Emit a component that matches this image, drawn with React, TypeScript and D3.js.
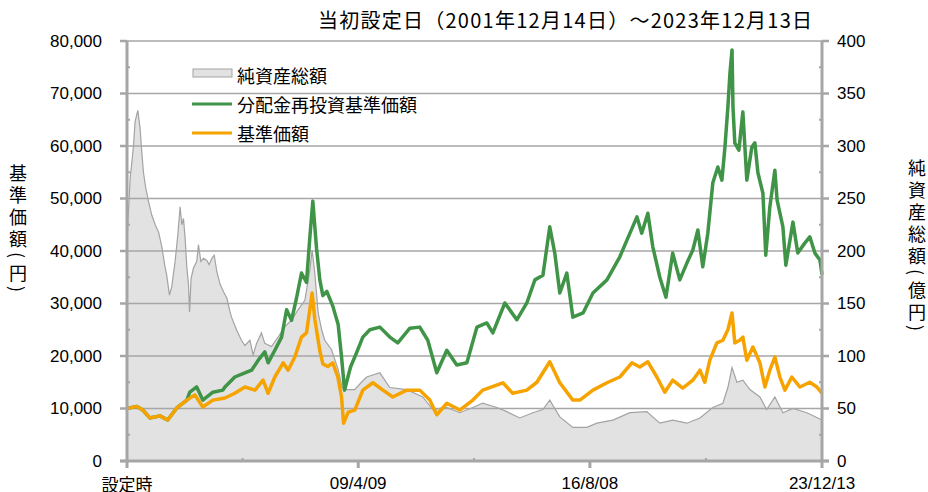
import React from 'react';
import * as d3 from 'd3';

// 純資産総額（億円）
const assetDates = [
  '2001-12-14', '2002-01-20', '2002-02-09', '2002-02-28', '2002-03-17', '2002-04-18', '2002-05-14', '2002-06-03',
  '2002-06-22', '2002-07-19', '2002-08-20', '2002-09-27', '2002-11-05', '2002-12-14', '2003-01-21', '2003-02-22',
  '2003-03-18', '2003-04-19', '2003-05-15', '2003-06-23', '2003-07-24', '2003-08-20', '2003-09-09', '2003-09-28',
  '2003-10-17', '2003-11-06', '2003-11-25', '2003-12-07', '2003-12-25', '2004-01-22', '2004-02-28', '2004-03-19',
  '2004-04-16', '2004-05-16', '2004-06-24', '2004-07-20', '2004-08-21', '2004-09-17', '2004-10-18', '2004-11-25',
  '2005-01-04', '2005-02-11', '2005-03-19', '2005-04-05', '2005-06-02', '2005-07-29', '2005-09-07', '2005-11-04',
  '2005-12-11', '2006-01-20', '2006-03-17', '2006-04-25', '2006-07-11', '2006-09-26', '2006-12-13', '2007-02-28',
  '2007-05-14', '2007-08-01', '2007-09-28', '2007-10-24', '2007-11-24', '2008-01-02', '2008-02-11', '2008-03-18',
  '2008-06-05', '2008-08-20', '2008-10-05', '2008-11-25', '2009-02-28', '2009-05-16', '2009-07-16', '2009-12-15',
  '2010-04-09', '2010-10-22', '2011-04-25', '2011-08-19', '2012-01-28', '2012-06-26', '2012-11-24', '2013-03-18',
  '2013-08-28', '2013-12-22', '2014-05-20', '2014-10-18', '2015-02-12', '2015-05-02', '2015-08-26', '2016-01-24',
  '2016-07-04', '2016-10-28', '2017-04-30', '2017-11-14', '2018-05-27', '2018-10-25', '2019-03-23', '2019-09-03',
  '2020-02-01', '2020-06-29', '2020-10-23', '2020-12-20', '2021-02-06', '2021-04-03', '2021-06-11', '2021-09-01',
  '2021-12-25', '2022-03-14', '2022-06-16', '2022-09-17', '2023-01-11', '2023-06-21', '2023-12-13',
];
const assetValues = [
  210, 270, 285, 301, 323, 334, 317, 294,
  275, 260, 247, 234, 225, 218, 204, 187,
  177, 158, 166, 190, 215, 242, 225, 231,
  212, 184, 168, 142, 174, 184, 190, 206,
  190, 193, 191, 187, 193, 196, 180, 168,
  161, 155, 142, 137, 125, 115, 110, 115,
  101, 112, 122, 112, 109, 118, 128, 134,
  144, 153, 182, 201, 179, 141, 125, 115,
  106, 87, 70, 68, 68, 75, 80, 84,
  70, 68, 61, 49, 51, 46, 51, 55,
  51, 47, 41, 46, 49, 58, 42, 32,
  32, 36, 39, 46, 47, 36, 39, 36,
  41, 51, 55, 70, 89, 75, 77, 68,
  61, 49, 61, 46, 50, 46, 39,
];

// 基準価額（円）
const priceDates = [
  '2001-12-14', '2002-04-06', '2002-06-15', '2002-09-04', '2002-12-29', '2003-03-29', '2003-07-12', '2003-11-06',
  '2004-02-07', '2004-05-08', '2004-09-02', '2005-01-19', '2005-05-13', '2005-09-07', '2006-01-02', '2006-04-05',
  '2006-06-02', '2006-08-19', '2006-11-23', '2007-01-20', '2007-04-07', '2007-06-23', '2007-08-20', '2007-10-24',
  '2007-11-24', '2008-01-21', '2008-02-25', '2008-04-22', '2008-06-19', '2008-08-16', '2008-09-28', '2008-10-21',
  '2008-12-14', '2009-02-28', '2009-06-01', '2009-09-25', '2010-01-19', '2010-05-13', '2010-10-22', '2011-03-21',
  '2011-07-15', '2011-10-04', '2012-01-28', '2012-06-26', '2012-11-24', '2013-03-18', '2013-11-06', '2014-02-28',
  '2014-08-10', '2014-12-04', '2015-05-02', '2015-08-26', '2016-01-24', '2016-04-14', '2016-09-12', '2017-02-21',
  '2017-07-20', '2017-12-06', '2018-03-08', '2018-06-09', '2018-09-21', '2018-12-22', '2019-03-23', '2019-07-17',
  '2019-11-11', '2020-02-01', '2020-03-28', '2020-05-25', '2020-08-15', '2020-10-23', '2020-12-20', '2021-02-06',
  '2021-03-10', '2021-05-07', '2021-06-11', '2021-07-27', '2021-10-05', '2021-12-25', '2022-02-21', '2022-04-19',
  '2022-06-16', '2022-08-13', '2022-10-10', '2022-12-29', '2023-04-01', '2023-07-25', '2023-10-14', '2023-12-13',
];
const priceValues = [
  10000, 10400, 9700, 8200, 8600, 7800, 10100, 11600,
  12600, 10300, 11600, 12000, 12900, 14100, 13500, 15400,
  12900, 16000, 18700, 17300, 19800, 23600, 24400, 32000,
  27000, 21000, 18500, 18000, 18700, 16000, 12200, 7200,
  9300, 9700, 13500, 14900, 13500, 12200, 13500, 13500,
  11600, 8800, 11000, 9700, 11600, 13500, 14900, 12900,
  13500, 15000, 18900, 14900, 11600, 11600, 13500, 14900,
  16000, 18700, 17900, 18900, 16000, 13100, 15400, 13900,
  15400, 17300, 15000, 19200, 22500, 23000, 25000, 28200,
  22500, 23000, 23600, 19200, 21700, 18700, 14100, 17300,
  19800, 16000, 13500, 16000, 14100, 15000, 14100, 12900,
];

// 分配金再投資基準価額（円）
const reinvestDates = [
  '2001-12-14', '2002-04-06', '2002-06-15', '2002-09-04', '2002-12-29', '2003-03-29', '2003-07-12', '2003-11-06',
  '2003-12-10', '2004-02-28', '2004-05-08', '2004-09-02', '2004-12-26', '2005-01-19', '2005-05-13', '2005-09-07',
  '2005-11-23', '2006-02-08', '2006-04-25', '2006-06-02', '2006-08-19', '2006-11-05', '2007-01-02', '2007-02-28',
  '2007-04-26', '2007-06-23', '2007-08-20', '2007-09-28', '2007-11-01', '2007-12-14', '2008-01-21', '2008-02-25',
  '2008-04-11', '2008-06-19', '2008-08-20', '2008-09-28', '2008-11-02', '2009-01-10', '2009-03-20', '2009-06-01',
  '2009-08-21', '2009-12-15', '2010-04-09', '2010-07-10', '2010-11-27', '2011-03-21', '2011-06-22', '2011-10-04',
  '2012-01-28', '2012-05-22', '2012-09-16', '2013-01-10', '2013-05-04', '2013-07-13', '2013-11-29', '2014-04-16',
  '2014-08-10', '2014-11-11', '2015-02-12', '2015-05-02', '2015-06-29', '2015-08-26', '2015-11-15', '2016-01-24',
  '2016-05-21', '2016-09-12', '2017-02-21', '2017-07-20', '2017-11-14', '2018-02-03', '2018-03-30', '2018-06-09',
  '2018-08-05', '2018-10-25', '2019-01-04', '2019-03-23', '2019-06-13', '2019-09-03', '2019-11-11', '2020-01-08',
  '2020-03-05', '2020-05-02', '2020-06-29', '2020-08-26', '2020-10-12', '2020-11-16', '2020-12-20', '2021-01-13',
  '2021-02-06', '2021-02-17', '2021-03-10', '2021-04-26', '2021-06-11', '2021-07-27', '2021-09-23', '2021-10-28',
  '2021-12-02', '2022-01-29', '2022-03-03', '2022-04-19', '2022-06-16', '2022-07-12', '2022-09-17', '2022-10-21',
  '2023-01-11', '2023-03-08', '2023-05-28', '2023-07-25', '2023-09-22', '2023-11-19', '2023-12-13',
];
const reinvestValues = [
  10000, 10400, 9700, 8200, 8600, 7800, 10100, 11600,
  13100, 14100, 11600, 13100, 13500, 14100, 16000, 16800,
  17300, 19200, 20800, 18700, 21100, 23600, 28800, 26800,
  31000, 35800, 34000, 42700, 49500, 40500, 34500, 31500,
  32300, 29500, 26000, 19800, 13500, 17900, 20600, 23600,
  25000, 25500, 23600, 22500, 25300, 25500, 23000, 16800,
  21100, 18300, 18700, 25500, 26300, 24400, 30100, 26900,
  30100, 34500, 35400, 44600, 39600, 32000, 35800, 27400,
  28200, 32000, 34500, 38900, 43400, 46500, 43400, 47200,
  40800, 35000, 31200, 39600, 34500, 37700, 40200, 44000,
  37000, 43400, 53000, 56000, 53500, 59800, 67400, 73900,
  78300, 67400, 60600, 59200, 66500, 53500, 59800, 60600,
  54900, 51000, 39200, 48400, 55400, 49700, 44600, 37300,
  45500, 39600, 41500, 42700, 39600, 38300, 35500,
];

const leftTicks = [0, 10000, 20000, 30000, 40000, 50000, 60000, 70000, 80000];
const rightTicks = [0, 50, 100, 150, 200, 250, 300, 350, 400];
const xTickDates = ['2001-12-14', '2009-04-09', '2016-08-08', '2023-12-13'];
const xTickLabels = ['設定時', '09/4/09', '16/8/08', '23/12/13'];

const titleText = '当初設定日（2001年12月14日）～2023年12月13日';
const leftTitle = ['基', '準', '価', '額', '(', '円', ')'];
const rightTitle = ['純', '資', '産', '総', '額', '(', '億', '円', ')'];
const legendNames = ['純資産総額', '分配金再投資基準価額', '基準価額'];

const W = 928, H = 492;
const margin = { left: 127, right: 822, top: 41, bottom: 461 };
const font = "'Liberation Sans', 'Noto Sans CJK JP', sans-serif";
const jpFont = "'Noto Sans CJK JP', sans-serif";
const gridColor = '#a6a6a6';
const green = '#3f9447';
const orange = '#f6a300';

const parse = d3.timeParse('%Y-%m-%d');

function stackY(chars: string[], start: number) {
  // centre of each glyph; parentheses take less room
  const out: number[] = [];
  let y = start;
  chars.forEach((c, i) => {
    if (i > 0) {
      const prevSmall = '()'.includes(chars[i - 1]);
      const small = '()'.includes(c);
      y += (prevSmall ? 6 : 11) + (small ? 6 : 11);
    }
    out.push(y);
  });
  return out;
}

function VChar({ c, x, y }: { c: string, x: number, y: number }) {
  if ('()'.includes(c)) {
    return <text x={x} y={y} transform={`rotate(90 ${x} ${y})`}>{c}</text>;
  }
  return <text x={x} y={y}>{c}</text>;
}

export default function App() {
  const x = d3.scaleTime()
    .domain([parse('2001-12-14') as Date, parse('2023-12-13') as Date])
    .range([margin.left, margin.right]);
  const yL = d3.scaleLinear().domain([0, 80000]).range([margin.bottom, margin.top]);
  const yR = d3.scaleLinear().domain([0, 400]).range([margin.bottom, margin.top]);

  const assets = assetDates.map((d, i) => ({ date: parse(d) as Date, v: assetValues[i] }));
  const price = priceDates.map((d, i) => ({ date: parse(d) as Date, v: priceValues[i] }));
  const reinvest = reinvestDates.map((d, i) => ({ date: parse(d) as Date, v: reinvestValues[i] }));

  const area = d3.area<any>().x(d => x(d.date)).y0(yR(0)).y1(d => yR(d.v));
  const assetLine = d3.line<any>().x(d => x(d.date)).y(d => yR(d.v));
  const line = d3.line<any>().x(d => x(d.date)).y(d => yL(d.v));

  const xMajor = xTickDates.map(d => x(parse(d) as Date));
  const xMinor = xMajor.slice(1).map((p, i) => (p + xMajor[i]) / 2);
  const yMinor = leftTicks.slice(1).map((t, i) => yL((t + leftTicks[i]) / 2));

  const leftY = stackY(leftTitle, 172);
  const rightY = stackY(rightTitle, 167);

  return (
    <svg width={W} height={H} style={{ position: 'absolute', left: 0, top: 0, background: '#fff' }}>
      {/* net assets area */}
      <path d={area(assets) as string} fill="#e2e2e2" />
      <path d={assetLine(assets) as string} fill="none" stroke="#a3a3a3" strokeWidth={1.2} />

      {/* gridlines */}
      {leftTicks.slice(1).map(t => (
        <line key={t} x1={margin.left} x2={margin.right} y1={yL(t)} y2={yL(t)} stroke={gridColor} strokeWidth={1.6} />
      ))}

      {/* series */}
      <path d={line(reinvest) as string} fill="none" stroke={green} strokeWidth={3.5} strokeLinejoin="round" />
      <path d={line(price) as string} fill="none" stroke={orange} strokeWidth={3.5} strokeLinejoin="round" />

      {/* axes */}
      <g stroke={gridColor}>
        <line x1={margin.left} x2={margin.left} y1={margin.top} y2={margin.bottom + 1} strokeWidth={3} />
        <line x1={margin.right} x2={margin.right} y1={margin.top} y2={margin.bottom + 1} strokeWidth={3} />
        <line x1={margin.left - 7} x2={margin.right + 7} y1={margin.bottom} y2={margin.bottom} strokeWidth={3} />
        {leftTicks.map(t => (
          <g key={t}>
            <line x1={margin.left - 7} x2={margin.left} y1={yL(t)} y2={yL(t)} strokeWidth={2.5} />
            <line x1={margin.right} x2={margin.right + 7} y1={yL(t)} y2={yL(t)} strokeWidth={2.5} />
          </g>
        ))}
        {yMinor.map((y, i) => (
          <g key={i}>
            <line x1={margin.left} x2={margin.left + 3} y1={y} y2={y} strokeWidth={2} />
            <line x1={margin.right - 3} x2={margin.right} y1={y} y2={y} strokeWidth={2} />
          </g>
        ))}
        {xMajor.map((p, i) => (
          <line key={i} x1={p} x2={p} y1={margin.bottom} y2={margin.bottom + 7} strokeWidth={3} />
        ))}
        {xMinor.map((p, i) => (
          <line key={i} x1={p} x2={p} y1={margin.bottom - 3} y2={margin.bottom} strokeWidth={2} />
        ))}
      </g>

      {/* tick labels */}
      <g fontFamily={font} fontSize={17} fill="#000">
        {leftTicks.map(t => (
          <text key={t} x={102} y={yL(t)} textAnchor="end" dominantBaseline="central">{d3.format(',')(t)}</text>
        ))}
        {rightTicks.map(t => (
          <text key={t} x={837} y={yR(t)} dominantBaseline="central">{t}</text>
        ))}
        {xTickLabels.map((l, i) => (
          <text key={l} x={xMajor[i]} y={i === 0 ? 491 : 489} textAnchor="middle" fontFamily={i === 0 ? jpFont : font}>{l}</text>
        ))}
      </g>

      {/* title */}
      <text x={565} y={28} textAnchor="middle" fontFamily={jpFont} fontSize={20} textLength={494} lengthAdjust="spacing">{titleText}</text>

      {/* axis titles */}
      <g fontFamily={jpFont} fontSize={18} textAnchor="middle" dominantBaseline="central">
        {leftTitle.map((c, i) => <VChar key={i} c={c} x={18} y={leftY[i]} />)}
        {rightTitle.map((c, i) => <VChar key={i} c={c} x={917} y={rightY[i]} />)}
      </g>

      {/* legend */}
      <g fontFamily={jpFont} fontSize={18}>
        <rect x={193} y={69} width={39} height={8} fill="#e2e2e2" stroke="#a3a3a3" strokeWidth={1} />
        <text x={237} y={75} dominantBaseline="central">{legendNames[0]}</text>
        <line x1={192} x2={232} y1={104} y2={104} stroke={green} strokeWidth={3} />
        <text x={237} y={104} dominantBaseline="central">{legendNames[1]}</text>
        <line x1={192} x2={232} y1={133} y2={133} stroke={orange} strokeWidth={3} />
        <text x={237} y={133} dominantBaseline="central">{legendNames[2]}</text>
      </g>
    </svg>
  );
}
